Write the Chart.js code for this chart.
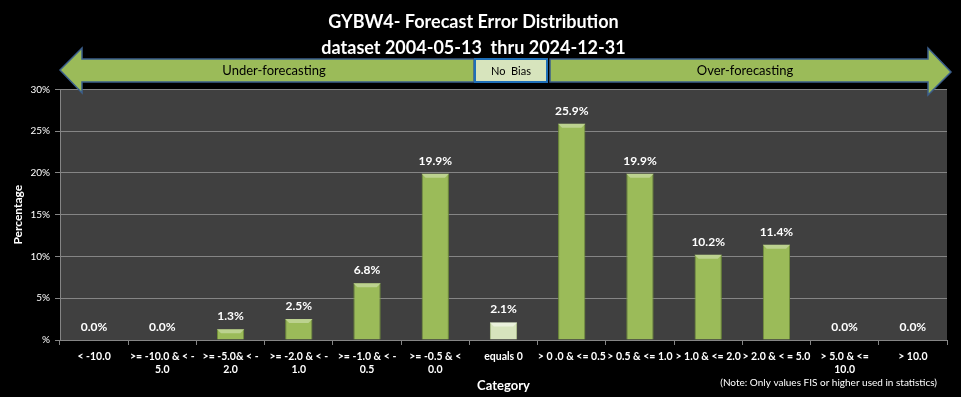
<!DOCTYPE html>
<html>
<head>
<meta charset="utf-8">
<script src="https://cdn.jsdelivr.net/npm/chart.js@4.4.1/dist/chart.umd.min.js"></script>
<style>
    html, body { margin: 0; padding: 0; background: #000; }
    #wrap { width: 961px; height: 397px; }
</style>
</head>
<body>
<div id="wrap"><canvas id="chart" width="961" height="397"></canvas></div>
<script>
const categories = [
    ['< -10.0'],
    ['>= -10.0 & < -', '5.0'],
    ['>= -5.0& < -', '2.0'],
    ['>= -2.0 & < -', '1.0'],
    ['>= -1.0 & < -', '0.5'],
    ['>= -0.5 & <', '0.0'],
    ['equals 0'],
    ['> 0 .0 & <= 0.5'],
    ['> 0.5 & <= 1.0'],
    ['> 1.0 & <= 2.0'],
    ['> 2.0 & < = 5.0'],
    ['> 5.0 & <=', '10.0'],
    ['> 10.0'],
];
const percentages = [0.0, 0.0, 1.3, 2.5, 6.8, 19.9, 2.1, 25.9, 19.9, 10.2, 11.4, 0.0, 0.0];
const yTicks = [0, 5, 10, 15, 20, 25, 30];
const titleLines = ['GYBW4- Forecast Error Distribution', 'dataset 2004-05-13  thru 2024-12-31'];

const COLORS = {
    green: '#9bbb59',
    greenDark: '#7f9c45',
    greenLight: '#bcd28f',
    pale: '#d7e4bd',
    paleDark: '#bccf98',
    paleLight: '#eaf1dc',
    arrowEdge: '#3b5f8c',
    noBiasEdge: '#1f6fb8',
    plotBg: '#404040',
    grid: '#858585',
};
const FONT = 'Lato, "Open Sans", sans-serif';
const NO_BIAS_INDEX = 6;

function barFill(context) {
    const el = context.element;
    const pale = context.dataIndex === NO_BIAS_INDEX;
    if (!el || !el.width) {
        return pale ? COLORS.pale : COLORS.green;
    }
    const ctx = context.chart.ctx;
    const x0 = el.x - el.width / 2;
    const g = ctx.createLinearGradient(x0, 0, x0 + el.width, 0);
    if (pale) {
        g.addColorStop(0, COLORS.paleDark);
        g.addColorStop(0.5, COLORS.pale);
        g.addColorStop(1, COLORS.paleDark);
    } else {
        g.addColorStop(0, COLORS.greenDark);
        g.addColorStop(0.15, COLORS.green);
        g.addColorStop(0.85, COLORS.green);
        g.addColorStop(1, COLORS.greenDark);
    }
    return g;
}

// plot background, bar bevels, value labels, arrows and footnote
const decorations = {
    id: 'decorations',
    beforeDraw(chart) {
        const { ctx, chartArea: a } = chart;
        ctx.save();
        ctx.fillStyle = '#000';
        ctx.fillRect(0, 0, chart.width, chart.height);
        ctx.fillStyle = COLORS.plotBg;
        ctx.fillRect(a.left, a.top, a.right - a.left, a.bottom - a.top);
        ctx.restore();
    },
    afterDatasetsDraw(chart) {
        const { ctx } = chart;
        const meta = chart.getDatasetMeta(0);
        ctx.save();
        meta.data.forEach((bar, i) => {
            const v = percentages[i];
            const half = bar.width / 2;
            const h = bar.base - bar.y;
            if (h > 2) {
                const bev = Math.min(4, h / 2);
                ctx.fillStyle = i === NO_BIAS_INDEX ? COLORS.paleLight : COLORS.greenLight;
                ctx.beginPath();
                ctx.moveTo(bar.x - half, bar.y);
                ctx.lineTo(bar.x + half, bar.y);
                ctx.lineTo(bar.x + half - bev, bar.y + bev);
                ctx.lineTo(bar.x - half + bev, bar.y + bev);
                ctx.closePath();
                ctx.fill();
            }
            ctx.fillStyle = '#ffffff';
            ctx.font = 'bold 12px ' + FONT;
            ctx.textAlign = 'center';
            ctx.textBaseline = 'middle';
            ctx.fillText(v.toFixed(1) + '%', bar.x, bar.y - 13);
        });
        ctx.restore();
    },
    afterDraw(chart) {
        const { ctx, chartArea: a } = chart;
        const midY = 70;
        const bodyTop = 59;
        const bodyBot = 82;
        const boxL = 475;
        const boxR = 547;
        ctx.save();
        ctx.lineWidth = 1.5;

        // left arrow
        ctx.fillStyle = COLORS.green;
        ctx.strokeStyle = COLORS.arrowEdge;
        ctx.beginPath();
        ctx.moveTo(a.left, midY);
        ctx.lineTo(a.left + 22, 48);
        ctx.lineTo(a.left + 22, bodyTop);
        ctx.lineTo(boxL - 1, bodyTop);
        ctx.lineTo(boxL - 1, bodyBot);
        ctx.lineTo(a.left + 22, bodyBot);
        ctx.lineTo(a.left + 22, 93);
        ctx.closePath();
        ctx.fill();
        ctx.stroke();

        // right arrow
        ctx.beginPath();
        ctx.moveTo(boxR + 3, bodyTop);
        ctx.lineTo(928, bodyTop);
        ctx.lineTo(928, 48);
        ctx.lineTo(951, 72);
        ctx.lineTo(928, 95);
        ctx.lineTo(928, bodyBot);
        ctx.lineTo(boxR + 3, bodyBot);
        ctx.closePath();
        ctx.fill();
        ctx.stroke();

        // no bias box
        ctx.fillStyle = COLORS.pale;
        ctx.strokeStyle = COLORS.noBiasEdge;
        ctx.lineWidth = 2;
        ctx.fillRect(boxL, bodyTop, boxR - boxL, bodyBot - bodyTop);
        ctx.strokeRect(boxL, bodyTop, boxR - boxL, bodyBot - bodyTop);

        ctx.fillStyle = '#000';
        ctx.textAlign = 'center';
        ctx.textBaseline = 'middle';
        ctx.font = '13px ' + FONT;
        ctx.fillText('Under-forecasting', 274, 71);
        ctx.fillText('Over-forecasting', 745, 71);
        ctx.font = '11px ' + FONT;
        ctx.fillText('No  Bias', (boxL + boxR) / 2, 71);

        ctx.fillStyle = '#ffffff';
        ctx.font = '10px ' + FONT;
        ctx.textAlign = 'right';
        ctx.fillText('(Note: Only values FIS or higher used in statistics)', a.right - 10, 383);
        ctx.restore();
    },
};

const ctx = document.getElementById('chart').getContext('2d');
new Chart(ctx, {
    type: 'bar',
    data: {
        labels: categories,
        datasets: [{
            data: percentages,
            backgroundColor: barFill,
            borderColor: (c) => (c.dataIndex === NO_BIAS_INDEX ? '#b5c98f' : '#71903a'),
            borderWidth: 1,
            barPercentage: 0.4,
            categoryPercentage: 1,
        }],
    },
    options: {
        responsive: false,
        animation: false,
        devicePixelRatio: 1,
        layout: { padding: { left: 0, right: 14, top: 0, bottom: 0 } },
        plugins: {
            legend: { display: false },
            tooltip: { enabled: false },
            title: {
                display: true,
                text: titleLines,
                color: '#ffffff',
                font: { family: FONT, size: 18, weight: 'bold', lineHeight: 1.4 },
                padding: { top: 10, bottom: 29 },
            },
        },
        scales: {
            x: {
                afterFit: (s) => { s.height = 57; },
                grid: {
                    display: true,
                    offset: true,
                    drawOnChartArea: false,
                    drawTicks: true,
                    tickLength: 5,
                    color: COLORS.grid,
                },
                border: { display: true, color: COLORS.grid },
                ticks: {
                    color: '#ffffff',
                    padding: 5,
                    maxRotation: 0,
                    autoSkip: false,
                    font: { family: FONT, size: 10.5, weight: 'bold', lineHeight: 1.25 },
                },
                title: {
                    display: true,
                    text: 'Category',
                    color: '#ffffff',
                    font: { family: FONT, size: 13, weight: 'bold', lineHeight: 1.2 },
                    padding: { top: 0, bottom: 3 },
                },
            },
            y: {
                min: 0,
                max: 30,
                afterFit: (s) => { s.width = 60; },
                afterBuildTicks: (s) => { s.ticks = yTicks.map((v) => ({ value: v })); },
                grid: {
                    color: COLORS.grid,
                    tickLength: 5,
                },
                border: { display: true, color: COLORS.grid },
                ticks: {
                    color: '#ffffff',
                    padding: 5,
                    font: { family: FONT, size: 10 },
                    callback: (v) => (v === 0 ? '%' : v + '%'),
                },
                title: {
                    display: true,
                    text: 'Percentage',
                    color: '#ffffff',
                    font: { family: FONT, size: 12, weight: 'bold', lineHeight: 1.2 },
                    padding: { top: 11, bottom: 0 },
                },
            },
        },
    },
    plugins: [decorations],
});
</script>
</body>
</html>
